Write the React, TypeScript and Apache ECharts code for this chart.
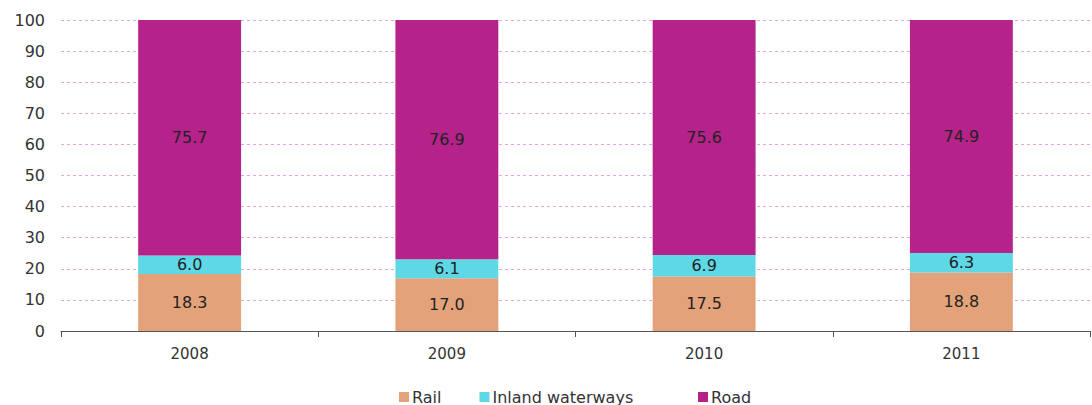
import React, { useEffect, useRef } from "react";
import * as echarts from "echarts";

const years = ["2008", "2009", "2010", "2011"];
const rail = [18.3, 17.0, 17.5, 18.8];
const inland = [6.0, 6.1, 6.9, 6.3];
const road = [75.7, 76.9, 75.6, 74.9];

const FONT = "'DejaVu Sans', Arial, sans-serif";

export default function App() {
  const ref = useRef<HTMLDivElement>(null);
  useEffect(() => {
    document.body.style.margin = "0";
    const chart = echarts.init(ref.current!, null, { renderer: "svg" });
    const label = {
      show: true,
      position: "inside",
      color: "#222",
      fontSize: 16,
      fontFamily: FONT,
      formatter: (p: any) => Number(p.value).toFixed(1),
    };
    const legendBase = {
      top: 384,
      itemWidth: 10,
      itemHeight: 10,
      itemGap: 38,
      icon: "rect",
      textStyle: { fontSize: 16, color: "#333", fontFamily: FONT, padding: [0, 0, 0, -2] },
    };
    chart.setOption({
      animation: false,
      textStyle: { fontFamily: FONT },
      grid: { left: 61, right: 2, top: 20, bottom: 74 },
      legend: [
        { ...legendBase, left: 394, data: ["Rail", "Inland waterways"] },
        { ...legendBase, left: 693, data: ["Road"] },
      ],
      xAxis: {
        type: "category",
        data: years,
        axisLine: { lineStyle: { color: "#555" } },
        axisTick: { show: true, length: 6, lineStyle: { color: "#555" } },
        axisLabel: { fontSize: 15, color: "#333", margin: 15, fontFamily: FONT },
      },
      yAxis: {
        type: "value",
        min: 0,
        max: 100,
        interval: 10,
        axisLine: { show: false },
        axisTick: { show: false },
        axisLabel: { fontSize: 16, color: "#333", margin: 16, fontFamily: FONT },
        splitLine: { lineStyle: { color: "#e0a8e0", type: [3, 3] } },
      },
      series: [
        { name: "Rail", type: "bar", stack: "a", data: rail, barWidth: "40%", itemStyle: { color: "#E4A27A" }, label },
        { name: "Inland waterways", type: "bar", stack: "a", data: inland, barWidth: "40%", itemStyle: { color: "#5FD8E6" }, label },
        { name: "Road", type: "bar", stack: "a", data: road, barWidth: "40%", itemStyle: { color: "#B4228A" }, label },
      ],
    });
    return () => chart.dispose();
  }, []);
  return <div ref={ref} style={{ width: 1092, height: 405 }} />;
}
